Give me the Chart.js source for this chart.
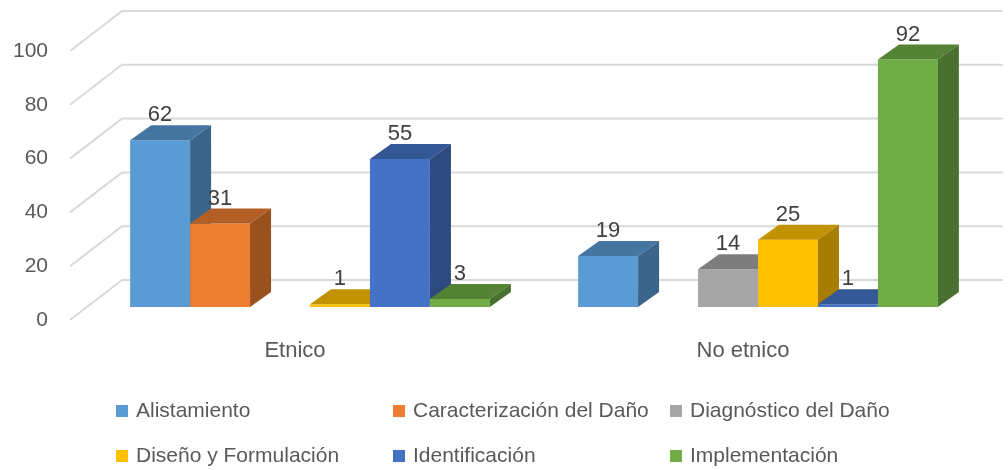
<!DOCTYPE html>
<html>
<head>
<meta charset="utf-8">
<script src="https://cdn.jsdelivr.net/npm/chart.js@4.4.0/dist/chart.umd.min.js"></script>
<style>
  html, body { margin: 0; padding: 0; background: #fff; }
  #wrap { position: relative; width: 1008px; height: 470px; }
</style>
</head>
<body>
<div id="wrap"><canvas id="chart" width="1008" height="470"></canvas></div>
<script>
// Data
const categories = ['Etnico', 'No etnico'];
const seriesNames = ['Alistamiento', 'Caracterización del Daño', 'Diagnóstico del Daño',
                     'Diseño y Formulación', 'Identificación', 'Implementación'];
const alistamiento = [62, 19];
const caracterizacion = [31, null];
const diagnostico = [null, 14];
const disenoFormulacion = [1, 25];
const identificacion = [55, 1];
const implementacion = [3, 92];
const yTicks = [0, 20, 40, 60, 80, 100];

const seriesColors = ['#5B9BD5', '#ED7D31', '#A5A5A5', '#FFC000', '#4472C4', '#70AD47'];
const seriesData = [alistamiento, caracterizacion, diagnostico, disenoFormulacion, identificacion, implementacion];

const FONT = '"Liberation Sans", Arial, sans-serif';
const TEXT = '#595959';

// 3D look: bar depth and back wall offsets (pixels)
const DEPTH_X = 21, DEPTH_Y = 15;
const WALL_X = 122, WALL_RIGHT = 1003, WALL_DY = 27;
const FRONT_X = 70, FRONT_DY = 13;

function shade(hex, f) {
    const n = parseInt(hex.slice(1), 16);
    const r = Math.round(((n >> 16) & 255) * f);
    const g = Math.round(((n >> 8) & 255) * f);
    const b = Math.round((n & 255) * f);
    return `rgb(${r},${g},${b})`;
}

function poly(ctx, pts, color) {
    ctx.beginPath();
    ctx.moveTo(pts[0][0], pts[0][1]);
    for (let i = 1; i < pts.length; i++) ctx.lineTo(pts[i][0], pts[i][1]);
    ctx.closePath();
    ctx.fillStyle = color;
    ctx.fill();
}

const bars3d = {
    id: 'bars3d',
    beforeDatasetsDraw(chart) {
        const ctx = chart.ctx;
        const y = chart.scales.y, x = chart.scales.x;
        ctx.save();
        // perspective gridlines
        ctx.strokeStyle = '#D9D9D9';
        ctx.lineWidth = 2;
        yTicks.forEach(v => {
            const py = y.getPixelForValue(v);
            ctx.beginPath();
            ctx.moveTo(FRONT_X, py + FRONT_DY);
            ctx.lineTo(WALL_X, py - WALL_DY);
            ctx.lineTo(WALL_RIGHT, py - WALL_DY);
            ctx.stroke();
        });
        // y tick labels
        ctx.font = '21px ' + FONT;
        ctx.fillStyle = TEXT;
        ctx.textAlign = 'right';
        ctx.textBaseline = 'middle';
        yTicks.forEach(v => {
            ctx.fillText(String(v), 48, y.getPixelForValue(v) + FRONT_DY);
        });
        // category labels
        ctx.font = '22px ' + FONT;
        ctx.textAlign = 'center';
        categories.forEach((c, i) => {
            ctx.fillText(c, x.getPixelForValue(i) - 15, 351);
        });
        ctx.restore();
    },
    afterDatasetsDraw(chart) {
        const ctx = chart.ctx;
        const labels = [];
        ctx.save();
        // paint left to right so each bar covers the side of the one before it
        categories.forEach((c, i) => {
            chart.data.datasets.forEach((ds, d) => {
                const v = ds.data[i];
                if (v === null || v === undefined) return;
                const el = chart.getDatasetMeta(d).data[i];
                const p = el.getProps(['x', 'y', 'base', 'width'], true);
                const l = p.x - p.width / 2, r = p.x + p.width / 2;
                const col = seriesColors[d];
                poly(ctx, [[l, p.base], [r, p.base], [r, p.y], [l, p.y]], col);
                poly(ctx, [[l, p.y], [r, p.y], [r + DEPTH_X, p.y - DEPTH_Y], [l + DEPTH_X, p.y - DEPTH_Y]], shade(col, 0.76));
                poly(ctx, [[r, p.y], [r + DEPTH_X, p.y - DEPTH_Y], [r + DEPTH_X, p.base - DEPTH_Y], [r, p.base]], shade(col, 0.65));
                labels.push([String(v), p.x, p.y - 25]);
            });
        });
        ctx.font = '22px ' + FONT;
        ctx.fillStyle = '#404040';
        ctx.textAlign = 'center';
        ctx.textBaseline = 'middle';
        labels.forEach(t => ctx.fillText(t[0], t[1], t[2]));
        ctx.restore();
    },
    afterDraw(chart) {
        // legend in three columns, two rows
        const ctx = chart.ctx;
        const colX = [116, 393, 670];
        const rowY = [411, 456];
        ctx.save();
        ctx.font = '21px ' + FONT;
        ctx.textAlign = 'left';
        ctx.textBaseline = 'middle';
        seriesNames.forEach((name, i) => {
            const cx = colX[i % 3], cy = rowY[Math.floor(i / 3)];
            ctx.fillStyle = seriesColors[i];
            ctx.fillRect(cx, cy - 6, 12, 12);
            ctx.fillStyle = TEXT;
            ctx.fillText(name, cx + 20, cy);
        });
        ctx.restore();
    }
};

new Chart(document.getElementById('chart'), {
    type: 'bar',
    data: {
        labels: categories,
        datasets: seriesNames.map((name, i) => ({
            label: name,
            data: seriesData[i],
            backgroundColor: 'rgba(0,0,0,0)',
            borderWidth: 0
        }))
    },
    options: {
        responsive: false,
        animation: false,
        layout: { padding: { left: 86, right: 26, top: 38, bottom: 163 } },
        datasets: { bar: { categoryPercentage: 0.803, barPercentage: 1 } },
        plugins: {
            legend: { display: false },
            tooltip: { enabled: false }
        },
        scales: {
            x: { display: false },
            y: { display: false, min: 0, max: 100 }
        }
    },
    plugins: [bars3d]
});
</script>
</body>
</html>
